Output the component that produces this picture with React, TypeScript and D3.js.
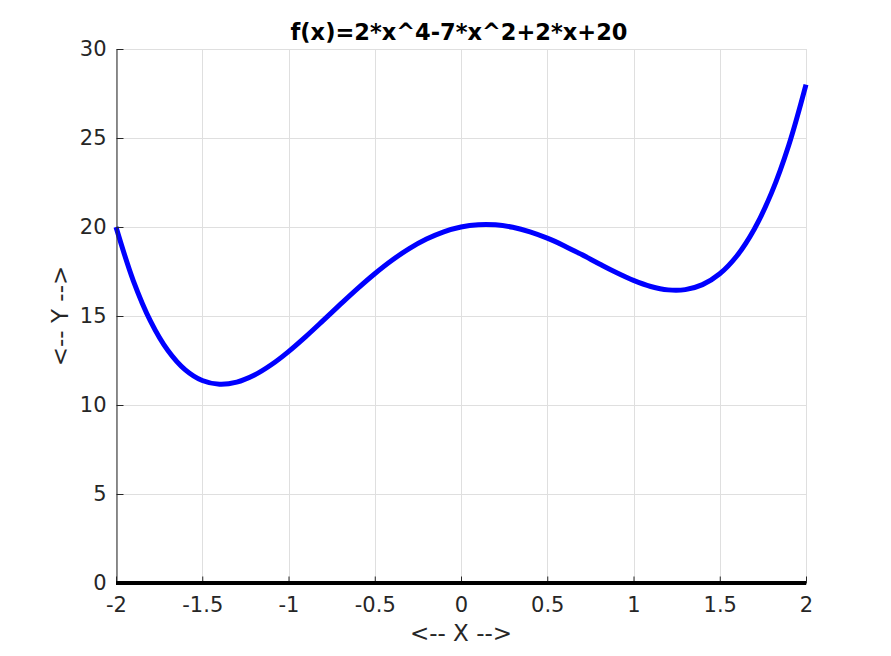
import * as d3 from "d3";
import { useEffect, useRef } from "react";

// samples of f(x) = 2x^4 - 7x^2 + 2x + 20, read every 0.1 on x
const xs = [
  -2, -1.9, -1.8, -1.7, -1.6, -1.5, -1.4, -1.3, -1.2, -1.1, -1, -0.9, -0.8, -0.7, -0.6, -0.5, -0.4, -0.3, -0.2, -0.1,
  0, 0.1, 0.2, 0.3, 0.4, 0.5, 0.6, 0.7, 0.8, 0.9, 1, 1.1, 1.2, 1.3, 1.4, 1.5, 1.6, 1.7, 1.8, 1.9, 2,
];
const ys = [
  20, 16.9942, 14.7152, 13.0742, 11.9872, 11.375, 11.1632, 11.2822, 11.6672, 12.2582, 13, 13.8422, 14.7392, 15.6502,
  16.5392, 17.375, 18.1312, 18.7862, 19.3232, 19.7302, 20, 20.1302, 20.1232, 19.9862, 19.7312, 19.375, 18.9392,
  18.4502, 17.9392, 17.4422, 17, 16.6582, 16.4672, 16.4822, 16.7632, 17.375, 18.3872, 19.8742, 21.9152, 24.5942, 28,
];
const xTicks = [-2, -1.5, -1, -0.5, 0, 0.5, 1, 1.5, 2];
const yTicks = [0, 5, 10, 15, 20, 25, 30];
const title = "f(x)=2*x^4-7*x^2+2*x+20";
const xLabel = "<-- X -->";
const yLabel = "<-- Y -->";

export default function App() {
  const svgRef = useRef<SVGSVGElement>(null);
  const width = 891;
  const height = 656;
  const margin = { top: 49, right: 85, bottom: 73, left: 116 };

  useEffect(() => {
    const svg = d3.select(svgRef.current);
    svg.selectAll("*").remove();

    const x = d3.scaleLinear().domain([-2, 2]).range([margin.left, width - margin.right]);
    const y = d3.scaleLinear().domain([0, 30]).range([height - margin.bottom, margin.top]);
    const font = "DejaVu Sans, sans-serif";
    const textColor = "#262626";

    // grid
    const grid = svg.append("g").attr("stroke", "#dfdfdf").attr("stroke-width", 1);
    grid.selectAll(".gx")
      .data(xTicks)
      .join("line")
      .attr("x1", d => Math.round(x(d)) + 0.5)
      .attr("x2", d => Math.round(x(d)) + 0.5)
      .attr("y1", y(0))
      .attr("y2", y(30));
    grid.selectAll(".gy")
      .data(yTicks)
      .join("line")
      .attr("y1", d => Math.round(y(d)) + 0.5)
      .attr("y2", d => Math.round(y(d)) + 0.5)
      .attr("x1", x(-2))
      .attr("x2", x(2));

    // curve
    const pts = xs.map((v, i) => [v, ys[i]] as [number, number]);
    const line = d3.line<[number, number]>()
      .x(d => x(d[0]))
      .y(d => y(d[1]))
      .curve(d3.curveCatmullRom.alpha(0.5));
    svg.append("path")
      .datum(pts)
      .attr("d", line)
      .attr("fill", "none")
      .attr("stroke", "#0000ff")
      .attr("stroke-width", 5);

    // axes
    const xAxis = svg.append("g")
      .attr("transform", `translate(0,${Math.round(y(0)) + 0.5})`)
      .call(d3.axisBottom(x).tickValues(xTicks).tickSizeInner(-7).tickSizeOuter(0).tickPadding(14).tickFormat(d => String(d)));
    const yAxis = svg.append("g")
      .attr("transform", `translate(${Math.round(x(-2)) + 0.5},0)`)
      .call(d3.axisLeft(y).tickValues(yTicks).tickSizeInner(-7).tickSizeOuter(0).tickPadding(10).tickFormat(d => String(d)));
    [xAxis, yAxis].forEach(a => {
      a.select(".domain").attr("stroke", textColor);
      a.selectAll(".tick line").attr("stroke", textColor);
      a.selectAll(".tick text").attr("fill", textColor).style("font-family", font).style("font-size", "21px");
    });

    // thick zero line
    svg.append("line")
      .attr("x1", x(-2))
      .attr("x2", x(2))
      .attr("y1", y(0))
      .attr("y2", y(0))
      .attr("stroke", "#000")
      .attr("stroke-width", 4);

    svg.append("text")
      .attr("x", (x(-2) + x(2)) / 2 - 2)
      .attr("y", 40)
      .attr("text-anchor", "middle")
      .style("font-family", font)
      .style("font-size", "22.5px")
      .style("font-weight", "bold")
      .attr("fill", "#000")
      .text(title);

    svg.append("text")
      .attr("x", (x(-2) + x(2)) / 2)
      .attr("y", 641)
      .attr("text-anchor", "middle")
      .style("font-family", font)
      .style("font-size", "23px")
      .attr("fill", textColor)
      .text(xLabel);

    svg.append("text")
      .attr("transform", `translate(68,${(y(0) + y(30)) / 2}) rotate(-90)`)
      .attr("text-anchor", "middle")
      .style("font-family", font)
      .style("font-size", "23px")
      .attr("fill", textColor)
      .text(yLabel);
  }, []);

  return (
    <svg
      ref={svgRef}
      width={width}
      height={height}
      style={{ position: "absolute", left: 0, top: 0, background: "#fff" }}
    />
  );
}
